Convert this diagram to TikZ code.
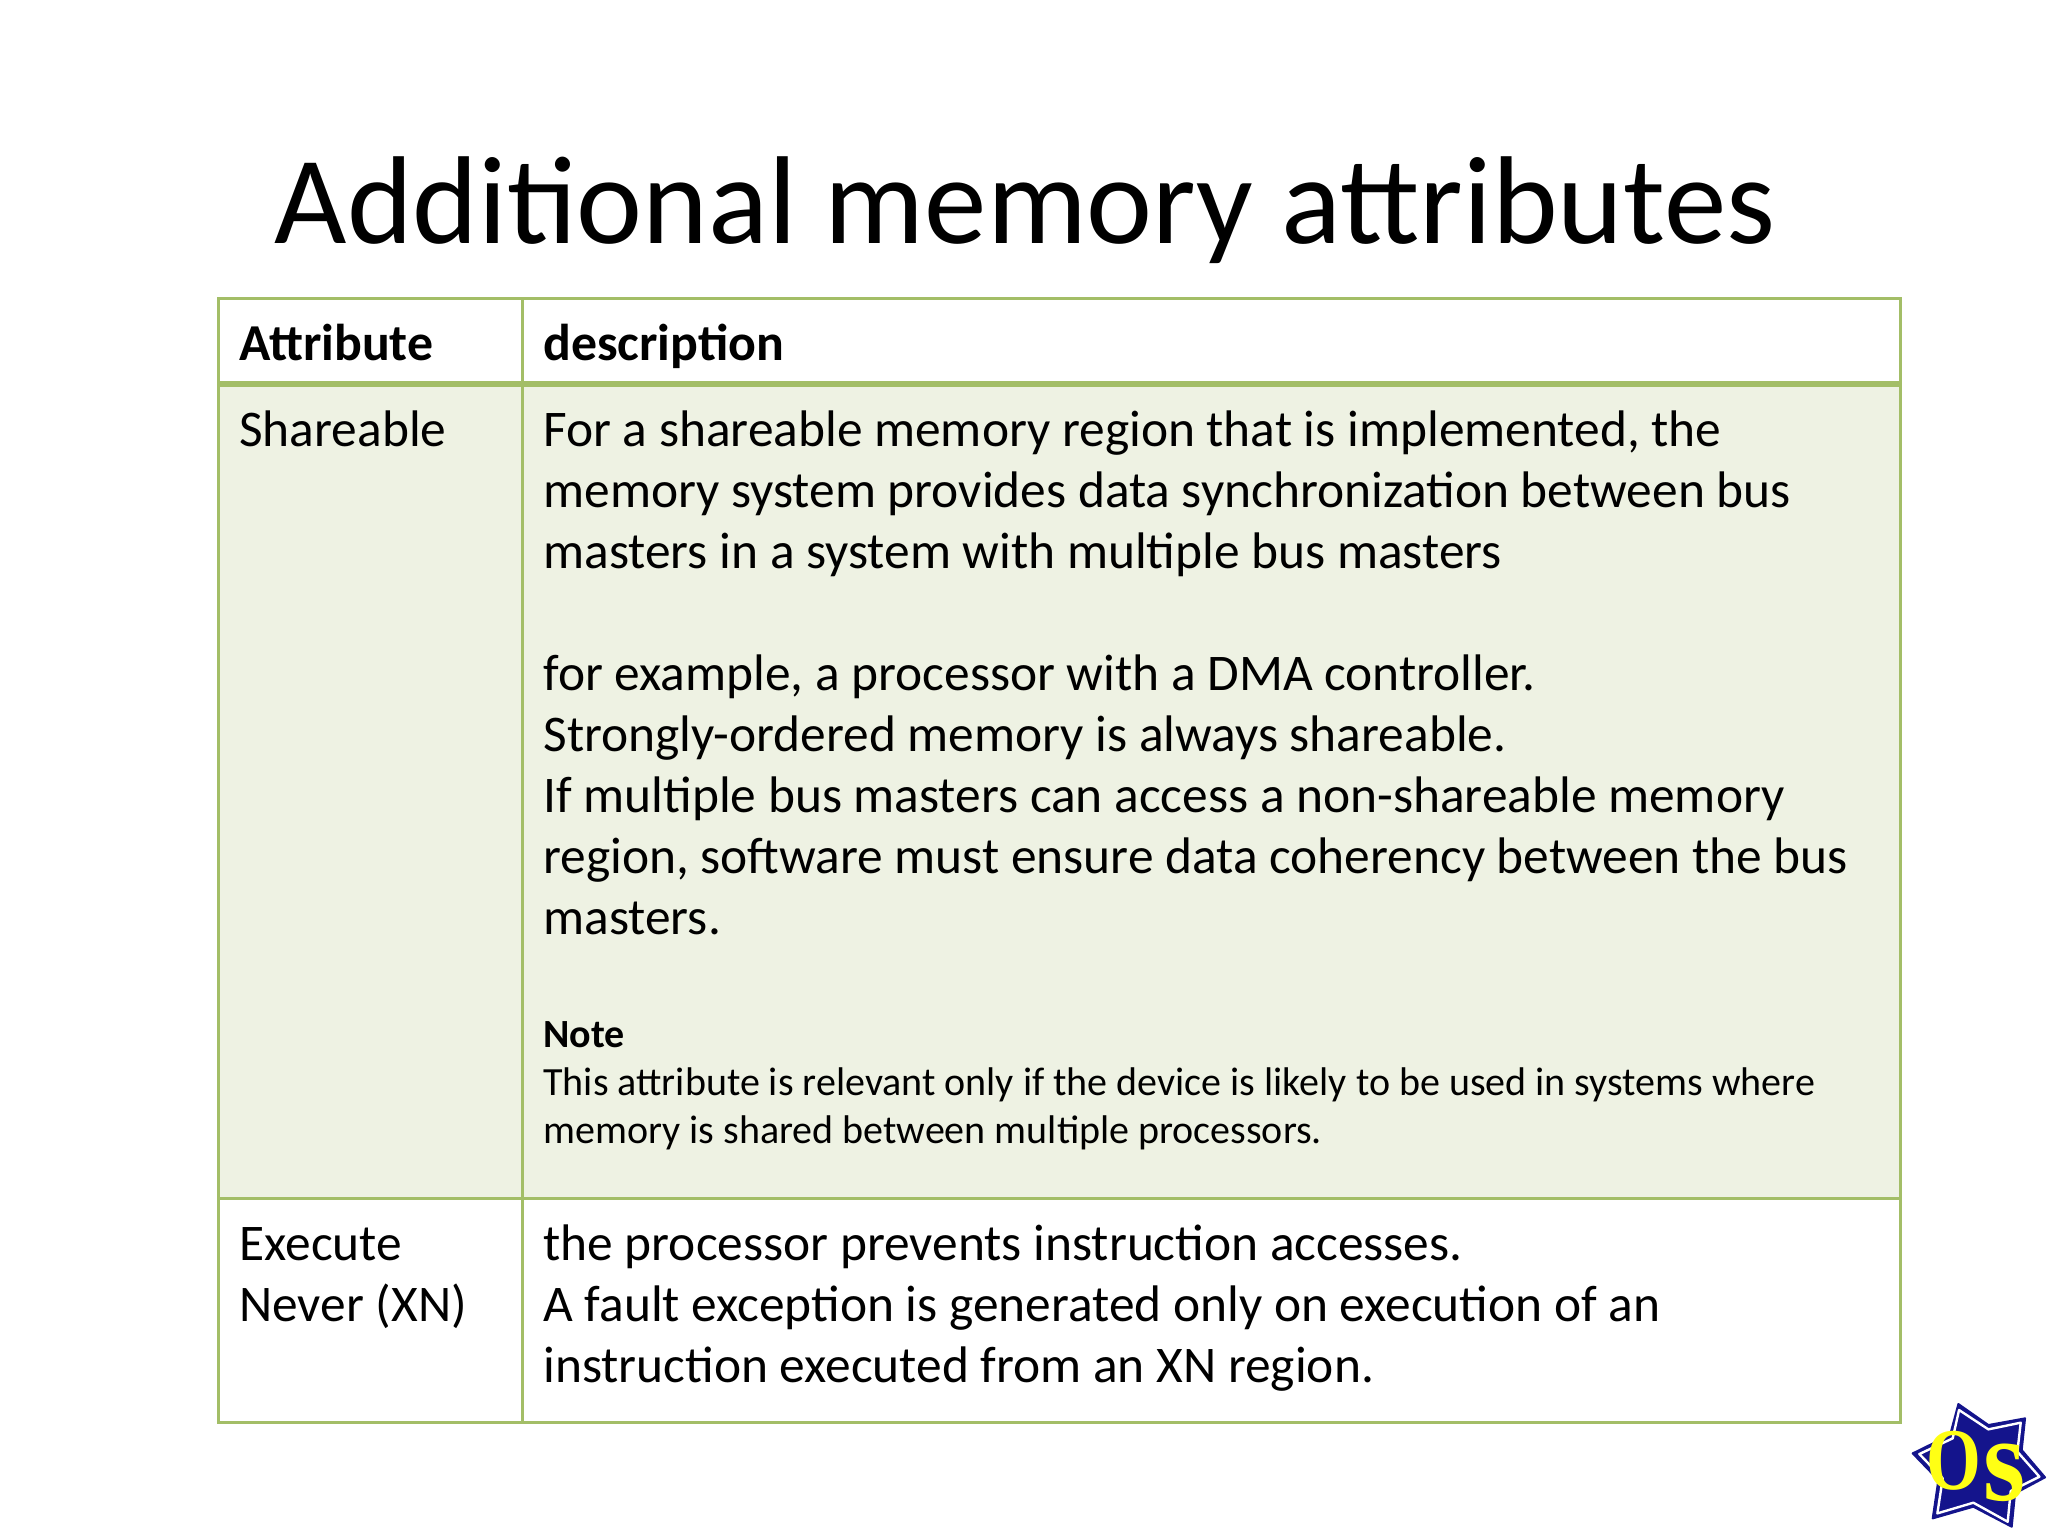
\documentclass[tikz,border=0pt]{standalone}
\usepackage{fontspec}
\setmainfont{Carlito}
\newfontfamily\logofont{Liberation Serif}
\usepackage{tikz}
\usetikzlibrary{positioning}
\definecolor{tablegreen}{HTML}{A3BE67}
\definecolor{rowgreen}{HTML}{EEF2E3}
\definecolor{logoblue}{HTML}{14148C}
\definecolor{logoyellow}{HTML}{FFFF14}
\tikzset{
  cell/.style={draw=tablegreen, line width=1.5pt, inner sep=0pt, outer sep=0pt},
  celltext/.style={inner sep=0pt, outer sep=0pt, anchor=north west, align=left,
    font=\fontsize{25.7}{30.5}\selectfont, execute at begin node=\strut},
  headtext/.style={celltext, font=\fontsize{25.9}{30.5}\selectfont\bfseries},
  notetext/.style={celltext, font=\fontsize{20}{24}\selectfont},
}
\begin{document}
\begin{tikzpicture}[x=0.5pt,y=-0.5pt]
        \useasboundingbox (0,0) rectangle (2048,1536);
        % Title
        \node[inner sep=0pt, anchor=base] (title) at (1025,243) {\fontsize{62.5}{70}\selectfont Additional memory attributes};
        % Table cells
        \node[cell, anchor=north west, minimum width=152pt, minimum height=43pt] (headA) at (218,298) {};
        \node[cell, right=0pt of headA, minimum width=689pt, minimum height=43pt] (headB) {};
        \node[cell, fill=rowgreen, below=0pt of headA, minimum width=152pt, minimum height=407pt] (shareA) {};
        \node[cell, fill=rowgreen, below=0pt of headB, minimum width=689pt, minimum height=407pt] (shareB) {};
        \node[cell, below=0pt of shareA, minimum width=152pt, minimum height=112pt] (neverA) {};
        \node[cell, below=0pt of shareB, minimum width=689pt, minimum height=112pt] (neverB) {};
        \draw[tablegreen, line width=3pt] (headA.south west) -- (headB.south east);
        % Texts
        \node[headtext, below right=10pt and 10.7pt of headA.north west] (attr) {Attribute};
        \node[headtext, below right=10pt and 10.7pt of headB.north west] (desc) {description};
        \node[celltext, below right=10pt and 10.7pt of shareA.north west] (share) {Shareable};
        \node[celltext, below right=13.3pt and 10.7pt of shareB.north west] (sharedesc) {For a shareable memory region that is implemented, the\\
          memory system provides data synchronization between bus\\
          masters in a system with multiple bus masters\\[30.5pt]
          for example, a processor with a DMA controller.\\
          Strongly-ordered memory is always shareable.\\
          If multiple bus masters can access a non-shareable memory\\
          region, software must ensure data coherency between the bus\\
          masters.};
        \node[notetext, below right=319pt and 10.7pt of shareB.north west] (note) {\textbf{Note}\\
          This attribute is relevant only if the device is likely to be used in systems where\\
          memory is shared between multiple processors.};
        \node[celltext, below right=14.6pt and 10.7pt of neverA.north west] (never) {Execute\\Never (XN)};
        \node[celltext, below right=13.3pt and 10.7pt of neverB.north west] (neverdesc) {the processor prevents instruction accesses.\\
          A fault exception is generated only on execution of an\\
          instruction executed from an XN region.};
        % Logo
        \begin{scope}[shift={(1880,1390)},x=0.1667pt,y=-0.1667pt]
          \draw[logoblue, fill=logoblue, line width=1pt, line join=round] (235,42) -- (325,105) -- (435,85) -- (425,180) -- (495,262) -- (405,310) -- (395,410) -- (280,350) -- (158,385) -- (175,270) -- (98,190) -- (210,135) -- cycle;
          \draw[white, line width=1.2pt, line join=round] (237,60) -- (325,118) -- (422,98) -- (412,185) -- (478,260) -- (392,303) -- (383,395) -- (280,338) -- (172,370) -- (188,265) -- (118,192) -- (218,145) -- cycle;
          \fill[logoblue] (245,85) -- (325,132) -- (408,112) -- (398,190) -- (455,258) -- (378,296) -- (370,375) -- (280,325) -- (188,352) -- (200,262) -- (140,195) -- (228,155) -- cycle;
          \node[logoyellow, inner sep=0pt, xscale=0.8] (logoO) at (222,212) {\logofont\bfseries\fontsize{44}{44}\selectfont O};
          \node[logoyellow, inner sep=0pt, xscale=0.9] (logoS) at (372,248) {\logofont\bfseries\fontsize{60}{60}\selectfont s};
        \end{scope}
    \end{tikzpicture}
\end{document}
